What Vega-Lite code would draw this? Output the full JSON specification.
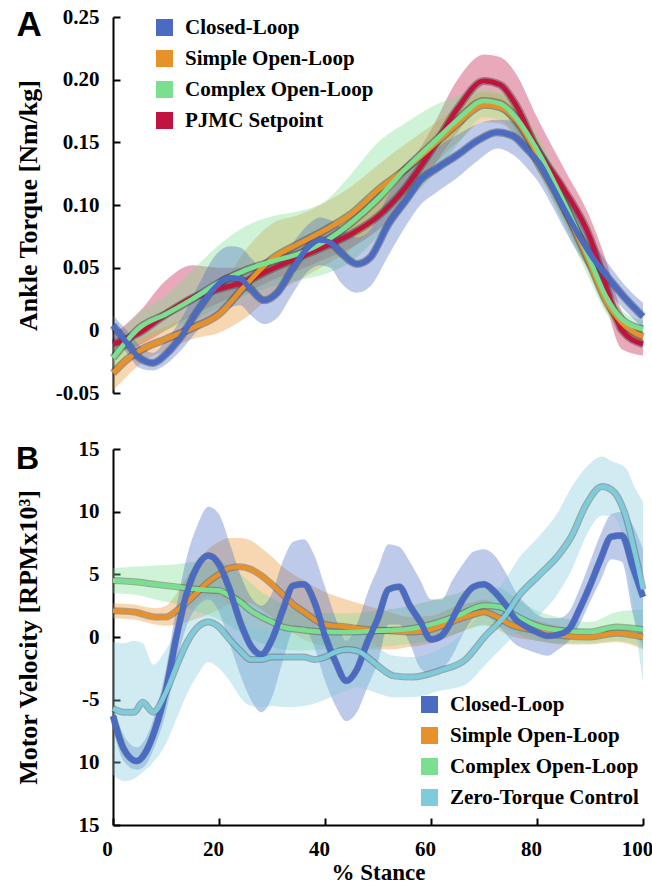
{
  "$schema": "https://vega.github.io/schema/vega-lite/v6.json",
  "background": "white",
  "padding": {"left": 15, "top": 6, "right": 0, "bottom": 0},
  "spacing": 35,
  "config": {
    "view": {"stroke": null},
    "font": "Liberation Serif",
    "axis": {
      "grid": false, "domainColor": "black", "domainWidth": 2, "tickColor": "black", "tickWidth": 2,
      "labelFont": "Liberation Serif", "labelFontWeight": "bold", "labelColor": "black",
      "titleFont": "Liberation Serif", "titleFontWeight": "bold", "titleColor": "black",
      "labelFlush": false, "labelOverlap": false
    },
    "legend": {
      "orient": "none", "title": null, "symbolType": "square", "symbolSize": 290, "symbolOpacity": 1,
      "symbolStrokeWidth": 0, "labelFont": "Liberation Serif", "labelFontWeight": "bold", "labelFontSize": 21,
      "labelColor": "black", "rowPadding": 9, "labelOffset": 10, "padding": 0, "labelLimit": 400
    }
  },
  "resolve": {
    "scale": {"color": "independent", "y": "independent", "x": "independent"},
    "legend": {"color": "independent"},
    "axis": {"x": "independent", "y": "independent"}
  },
  "datasets": {
    "torque": [
      {"series": "PJMC Setpoint", "x": 0, "y": -0.011, "lo": -0.018, "hi": -0.004},
      {"series": "PJMC Setpoint", "x": 5, "y": -0.002, "lo": -0.012, "hi": 0.015},
      {"series": "PJMC Setpoint", "x": 10, "y": 0.013, "lo": 0.0, "hi": 0.04},
      {"series": "PJMC Setpoint", "x": 15, "y": 0.026, "lo": 0.012, "hi": 0.052},
      {"series": "PJMC Setpoint", "x": 20, "y": 0.033, "lo": 0.022, "hi": 0.05},
      {"series": "PJMC Setpoint", "x": 25, "y": 0.039, "lo": 0.03, "hi": 0.05},
      {"series": "PJMC Setpoint", "x": 30, "y": 0.049, "lo": 0.04, "hi": 0.058},
      {"series": "PJMC Setpoint", "x": 35, "y": 0.058, "lo": 0.048, "hi": 0.067},
      {"series": "PJMC Setpoint", "x": 40, "y": 0.067, "lo": 0.057, "hi": 0.077},
      {"series": "PJMC Setpoint", "x": 45, "y": 0.077, "lo": 0.066, "hi": 0.088},
      {"series": "PJMC Setpoint", "x": 50, "y": 0.091, "lo": 0.08, "hi": 0.102},
      {"series": "PJMC Setpoint", "x": 55, "y": 0.113, "lo": 0.1, "hi": 0.126},
      {"series": "PJMC Setpoint", "x": 60, "y": 0.143, "lo": 0.128, "hi": 0.16},
      {"series": "PJMC Setpoint", "x": 65, "y": 0.177, "lo": 0.158, "hi": 0.2},
      {"series": "PJMC Setpoint", "x": 70, "y": 0.199, "lo": 0.18, "hi": 0.22},
      {"series": "PJMC Setpoint", "x": 73, "y": 0.196, "lo": 0.176, "hi": 0.218},
      {"series": "PJMC Setpoint", "x": 76, "y": 0.18, "lo": 0.16, "hi": 0.205},
      {"series": "PJMC Setpoint", "x": 80, "y": 0.145, "lo": 0.128, "hi": 0.17},
      {"series": "PJMC Setpoint", "x": 85, "y": 0.113, "lo": 0.098, "hi": 0.13},
      {"series": "PJMC Setpoint", "x": 90, "y": 0.074, "lo": 0.058, "hi": 0.09},
      {"series": "PJMC Setpoint", "x": 93, "y": 0.036, "lo": 0.02, "hi": 0.056},
      {"series": "PJMC Setpoint", "x": 96, "y": 0.0, "lo": -0.015, "hi": 0.015},
      {"series": "PJMC Setpoint", "x": 100, "y": -0.011, "lo": -0.02, "hi": -0.003},

      {"series": "Simple Open-Loop", "x": 0, "y": -0.034, "lo": -0.048, "hi": -0.022},
      {"series": "Simple Open-Loop", "x": 3, "y": -0.022, "lo": -0.035, "hi": -0.012},
      {"series": "Simple Open-Loop", "x": 6, "y": -0.014, "lo": -0.024, "hi": -0.004},
      {"series": "Simple Open-Loop", "x": 10, "y": -0.007, "lo": -0.016, "hi": 0.003},
      {"series": "Simple Open-Loop", "x": 15, "y": 0.002, "lo": -0.007, "hi": 0.014},
      {"series": "Simple Open-Loop", "x": 20, "y": 0.013, "lo": -0.002, "hi": 0.032},
      {"series": "Simple Open-Loop", "x": 25, "y": 0.036, "lo": 0.01, "hi": 0.064},
      {"series": "Simple Open-Loop", "x": 30, "y": 0.057, "lo": 0.028, "hi": 0.085},
      {"series": "Simple Open-Loop", "x": 35, "y": 0.069, "lo": 0.04, "hi": 0.092},
      {"series": "Simple Open-Loop", "x": 40, "y": 0.08, "lo": 0.052, "hi": 0.102},
      {"series": "Simple Open-Loop", "x": 45, "y": 0.093, "lo": 0.065, "hi": 0.115},
      {"series": "Simple Open-Loop", "x": 50, "y": 0.112, "lo": 0.088, "hi": 0.132},
      {"series": "Simple Open-Loop", "x": 55, "y": 0.128, "lo": 0.108, "hi": 0.148},
      {"series": "Simple Open-Loop", "x": 60, "y": 0.146, "lo": 0.13, "hi": 0.163},
      {"series": "Simple Open-Loop", "x": 65, "y": 0.165, "lo": 0.15, "hi": 0.178},
      {"series": "Simple Open-Loop", "x": 70, "y": 0.18, "lo": 0.166, "hi": 0.19},
      {"series": "Simple Open-Loop", "x": 73, "y": 0.178, "lo": 0.165, "hi": 0.188},
      {"series": "Simple Open-Loop", "x": 76, "y": 0.168, "lo": 0.155, "hi": 0.18},
      {"series": "Simple Open-Loop", "x": 80, "y": 0.141, "lo": 0.128, "hi": 0.153},
      {"series": "Simple Open-Loop", "x": 85, "y": 0.099, "lo": 0.088, "hi": 0.11},
      {"series": "Simple Open-Loop", "x": 90, "y": 0.053, "lo": 0.044, "hi": 0.062},
      {"series": "Simple Open-Loop", "x": 93, "y": 0.024, "lo": 0.016, "hi": 0.032},
      {"series": "Simple Open-Loop", "x": 96, "y": 0.006, "lo": 0.0, "hi": 0.012},
      {"series": "Simple Open-Loop", "x": 100, "y": -0.005, "lo": -0.01, "hi": 0.0},

      {"series": "Complex Open-Loop", "x": 0, "y": -0.022, "lo": -0.032, "hi": -0.01},
      {"series": "Complex Open-Loop", "x": 5, "y": 0.002, "lo": -0.01, "hi": 0.014},
      {"series": "Complex Open-Loop", "x": 10, "y": 0.013, "lo": 0.0, "hi": 0.028},
      {"series": "Complex Open-Loop", "x": 15, "y": 0.025, "lo": 0.008, "hi": 0.048},
      {"series": "Complex Open-Loop", "x": 20, "y": 0.038, "lo": 0.018, "hi": 0.068},
      {"series": "Complex Open-Loop", "x": 25, "y": 0.048, "lo": 0.028, "hi": 0.083},
      {"series": "Complex Open-Loop", "x": 30, "y": 0.055, "lo": 0.035, "hi": 0.091},
      {"series": "Complex Open-Loop", "x": 35, "y": 0.061, "lo": 0.04, "hi": 0.095},
      {"series": "Complex Open-Loop", "x": 40, "y": 0.071, "lo": 0.045, "hi": 0.103},
      {"series": "Complex Open-Loop", "x": 45, "y": 0.086, "lo": 0.055, "hi": 0.125},
      {"series": "Complex Open-Loop", "x": 50, "y": 0.105, "lo": 0.075, "hi": 0.15},
      {"series": "Complex Open-Loop", "x": 55, "y": 0.128, "lo": 0.1, "hi": 0.165},
      {"series": "Complex Open-Loop", "x": 60, "y": 0.148, "lo": 0.122, "hi": 0.178},
      {"series": "Complex Open-Loop", "x": 65, "y": 0.168, "lo": 0.148, "hi": 0.187},
      {"series": "Complex Open-Loop", "x": 70, "y": 0.183, "lo": 0.17, "hi": 0.192},
      {"series": "Complex Open-Loop", "x": 73, "y": 0.181, "lo": 0.168, "hi": 0.19},
      {"series": "Complex Open-Loop", "x": 76, "y": 0.17, "lo": 0.156, "hi": 0.182},
      {"series": "Complex Open-Loop", "x": 80, "y": 0.144, "lo": 0.128, "hi": 0.156},
      {"series": "Complex Open-Loop", "x": 85, "y": 0.103, "lo": 0.085, "hi": 0.115},
      {"series": "Complex Open-Loop", "x": 90, "y": 0.056, "lo": 0.04, "hi": 0.066},
      {"series": "Complex Open-Loop", "x": 93, "y": 0.027, "lo": 0.014, "hi": 0.036},
      {"series": "Complex Open-Loop", "x": 96, "y": 0.009, "lo": 0.002, "hi": 0.016},
      {"series": "Complex Open-Loop", "x": 100, "y": 0.001, "lo": -0.004, "hi": 0.008},

      {"series": "Closed-Loop", "x": 0, "y": 0.004, "lo": -0.006, "hi": 0.012},
      {"series": "Closed-Loop", "x": 3, "y": -0.012, "lo": -0.02, "hi": -0.002},
      {"series": "Closed-Loop", "x": 5, "y": -0.022, "lo": -0.03, "hi": -0.012},
      {"series": "Closed-Loop", "x": 7.5, "y": -0.026, "lo": -0.032, "hi": -0.018},
      {"series": "Closed-Loop", "x": 10, "y": -0.019, "lo": -0.027, "hi": -0.008},
      {"series": "Closed-Loop", "x": 13, "y": -0.004, "lo": -0.015, "hi": 0.01},
      {"series": "Closed-Loop", "x": 16, "y": 0.016, "lo": 0.0, "hi": 0.035},
      {"series": "Closed-Loop", "x": 19, "y": 0.033, "lo": 0.012, "hi": 0.058},
      {"series": "Closed-Loop", "x": 22, "y": 0.042, "lo": 0.018, "hi": 0.067},
      {"series": "Closed-Loop", "x": 24, "y": 0.041, "lo": 0.02, "hi": 0.066},
      {"series": "Closed-Loop", "x": 26, "y": 0.033, "lo": 0.012, "hi": 0.058},
      {"series": "Closed-Loop", "x": 28.5, "y": 0.024, "lo": 0.005, "hi": 0.048},
      {"series": "Closed-Loop", "x": 31, "y": 0.03, "lo": 0.01, "hi": 0.052},
      {"series": "Closed-Loop", "x": 34, "y": 0.05, "lo": 0.03, "hi": 0.07},
      {"series": "Closed-Loop", "x": 37, "y": 0.067, "lo": 0.048, "hi": 0.085},
      {"series": "Closed-Loop", "x": 39, "y": 0.072, "lo": 0.052, "hi": 0.09},
      {"series": "Closed-Loop", "x": 41, "y": 0.07, "lo": 0.05, "hi": 0.088},
      {"series": "Closed-Loop", "x": 43, "y": 0.062, "lo": 0.038, "hi": 0.082},
      {"series": "Closed-Loop", "x": 46, "y": 0.053, "lo": 0.03, "hi": 0.074},
      {"series": "Closed-Loop", "x": 48.5, "y": 0.058, "lo": 0.035, "hi": 0.08},
      {"series": "Closed-Loop", "x": 52, "y": 0.085, "lo": 0.06, "hi": 0.108},
      {"series": "Closed-Loop", "x": 55.5, "y": 0.105, "lo": 0.085, "hi": 0.126},
      {"series": "Closed-Loop", "x": 58, "y": 0.12, "lo": 0.1, "hi": 0.138},
      {"series": "Closed-Loop", "x": 61, "y": 0.129, "lo": 0.11, "hi": 0.146},
      {"series": "Closed-Loop", "x": 65, "y": 0.14, "lo": 0.122, "hi": 0.156},
      {"series": "Closed-Loop", "x": 69, "y": 0.152, "lo": 0.136, "hi": 0.165},
      {"series": "Closed-Loop", "x": 72.5, "y": 0.158, "lo": 0.145, "hi": 0.168},
      {"series": "Closed-Loop", "x": 75.5, "y": 0.155, "lo": 0.14, "hi": 0.167},
      {"series": "Closed-Loop", "x": 78, "y": 0.145, "lo": 0.13, "hi": 0.158},
      {"series": "Closed-Loop", "x": 80.5, "y": 0.133, "lo": 0.117, "hi": 0.147},
      {"series": "Closed-Loop", "x": 83, "y": 0.114, "lo": 0.098, "hi": 0.13},
      {"series": "Closed-Loop", "x": 85.5, "y": 0.094, "lo": 0.078, "hi": 0.11},
      {"series": "Closed-Loop", "x": 88, "y": 0.075, "lo": 0.06, "hi": 0.09},
      {"series": "Closed-Loop", "x": 91, "y": 0.055, "lo": 0.042, "hi": 0.068},
      {"series": "Closed-Loop", "x": 94, "y": 0.039, "lo": 0.028, "hi": 0.05},
      {"series": "Closed-Loop", "x": 97, "y": 0.024, "lo": 0.014, "hi": 0.034},
      {"series": "Closed-Loop", "x": 100, "y": 0.011, "lo": 0.002, "hi": 0.022}
    ],
    "velocity": [
      {"series": "Simple Open-Loop", "x": 0, "y": 2.1, "lo": 1.5, "hi": 2.7},
      {"series": "Simple Open-Loop", "x": 4, "y": 2.0, "lo": 1.4, "hi": 2.6},
      {"series": "Simple Open-Loop", "x": 8, "y": 1.6, "lo": 1.0, "hi": 2.3},
      {"series": "Simple Open-Loop", "x": 10, "y": 1.6, "lo": 0.9, "hi": 2.5},
      {"series": "Simple Open-Loop", "x": 12, "y": 2.1, "lo": 1.0, "hi": 3.5},
      {"series": "Simple Open-Loop", "x": 14, "y": 2.8, "lo": 1.2, "hi": 4.8},
      {"series": "Simple Open-Loop", "x": 16, "y": 3.6, "lo": 1.5, "hi": 6.0},
      {"series": "Simple Open-Loop", "x": 18, "y": 4.4, "lo": 1.8, "hi": 7.0},
      {"series": "Simple Open-Loop", "x": 20, "y": 5.0, "lo": 2.2, "hi": 7.6},
      {"series": "Simple Open-Loop", "x": 22, "y": 5.5, "lo": 2.6, "hi": 7.9},
      {"series": "Simple Open-Loop", "x": 24, "y": 5.6, "lo": 2.8, "hi": 7.9},
      {"series": "Simple Open-Loop", "x": 26, "y": 5.4, "lo": 2.7, "hi": 7.7},
      {"series": "Simple Open-Loop", "x": 28, "y": 4.9, "lo": 2.2, "hi": 7.1},
      {"series": "Simple Open-Loop", "x": 30, "y": 4.2, "lo": 1.6, "hi": 6.4},
      {"series": "Simple Open-Loop", "x": 32, "y": 3.4, "lo": 0.9, "hi": 5.6},
      {"series": "Simple Open-Loop", "x": 34, "y": 2.6, "lo": 0.3, "hi": 5.0},
      {"series": "Simple Open-Loop", "x": 36, "y": 2.0, "lo": -0.2, "hi": 4.5},
      {"series": "Simple Open-Loop", "x": 38, "y": 1.4, "lo": -0.5, "hi": 4.0},
      {"series": "Simple Open-Loop", "x": 40, "y": 1.0, "lo": -0.7, "hi": 3.6},
      {"series": "Simple Open-Loop", "x": 44, "y": 0.8, "lo": -0.9, "hi": 3.0},
      {"series": "Simple Open-Loop", "x": 48, "y": 0.6, "lo": -1.0, "hi": 2.5},
      {"series": "Simple Open-Loop", "x": 52, "y": 0.5, "lo": -1.0, "hi": 2.0},
      {"series": "Simple Open-Loop", "x": 56, "y": 0.4, "lo": -0.8, "hi": 1.6},
      {"series": "Simple Open-Loop", "x": 60, "y": 0.6, "lo": -0.5, "hi": 1.7},
      {"series": "Simple Open-Loop", "x": 65, "y": 1.4, "lo": 0.3, "hi": 2.5},
      {"series": "Simple Open-Loop", "x": 68, "y": 1.8, "lo": 0.8, "hi": 2.8},
      {"series": "Simple Open-Loop", "x": 70, "y": 2.0, "lo": 1.0, "hi": 3.0},
      {"series": "Simple Open-Loop", "x": 72, "y": 1.7, "lo": 0.7, "hi": 2.7},
      {"series": "Simple Open-Loop", "x": 75, "y": 1.0, "lo": 0.1, "hi": 2.0},
      {"series": "Simple Open-Loop", "x": 80, "y": 0.5, "lo": -0.3, "hi": 1.3},
      {"series": "Simple Open-Loop", "x": 85, "y": 0.1, "lo": -0.6, "hi": 0.8},
      {"series": "Simple Open-Loop", "x": 90, "y": 0.0, "lo": -0.6, "hi": 0.6},
      {"series": "Simple Open-Loop", "x": 95, "y": 0.3, "lo": -0.4, "hi": 1.0},
      {"series": "Simple Open-Loop", "x": 100, "y": 0.0, "lo": -1.0, "hi": 0.6},

      {"series": "Complex Open-Loop", "x": 0, "y": 4.5, "lo": 3.5, "hi": 5.5},
      {"series": "Complex Open-Loop", "x": 4, "y": 4.4, "lo": 3.4, "hi": 5.6},
      {"series": "Complex Open-Loop", "x": 8, "y": 4.2, "lo": 3.0, "hi": 5.7},
      {"series": "Complex Open-Loop", "x": 12, "y": 4.0, "lo": 2.6, "hi": 5.8},
      {"series": "Complex Open-Loop", "x": 16, "y": 3.8, "lo": 2.0, "hi": 6.0},
      {"series": "Complex Open-Loop", "x": 20, "y": 3.7, "lo": 1.4, "hi": 6.0},
      {"series": "Complex Open-Loop", "x": 22, "y": 3.3, "lo": 0.9, "hi": 5.6},
      {"series": "Complex Open-Loop", "x": 24, "y": 2.8, "lo": 0.4, "hi": 5.0},
      {"series": "Complex Open-Loop", "x": 26, "y": 2.1, "lo": -0.1, "hi": 4.3},
      {"series": "Complex Open-Loop", "x": 28, "y": 1.6, "lo": -0.5, "hi": 3.6},
      {"series": "Complex Open-Loop", "x": 30, "y": 1.2, "lo": -0.8, "hi": 3.1},
      {"series": "Complex Open-Loop", "x": 32, "y": 0.8, "lo": -1.0, "hi": 2.6},
      {"series": "Complex Open-Loop", "x": 35, "y": 0.6, "lo": -1.1, "hi": 2.2},
      {"series": "Complex Open-Loop", "x": 40, "y": 0.4, "lo": -1.0, "hi": 1.9},
      {"series": "Complex Open-Loop", "x": 45, "y": 0.4, "lo": -0.9, "hi": 1.9},
      {"series": "Complex Open-Loop", "x": 50, "y": 0.5, "lo": -0.8, "hi": 2.1},
      {"series": "Complex Open-Loop", "x": 55, "y": 0.6, "lo": -0.6, "hi": 2.4},
      {"series": "Complex Open-Loop", "x": 60, "y": 1.0, "lo": -0.3, "hi": 2.9},
      {"series": "Complex Open-Loop", "x": 65, "y": 1.7, "lo": 0.3, "hi": 3.5},
      {"series": "Complex Open-Loop", "x": 70, "y": 2.5, "lo": 0.9, "hi": 4.1},
      {"series": "Complex Open-Loop", "x": 73, "y": 2.4, "lo": 0.8, "hi": 3.9},
      {"series": "Complex Open-Loop", "x": 76, "y": 1.7, "lo": 0.3, "hi": 3.1},
      {"series": "Complex Open-Loop", "x": 80, "y": 0.9, "lo": -0.3, "hi": 2.1},
      {"series": "Complex Open-Loop", "x": 85, "y": 0.5, "lo": -0.5, "hi": 1.5},
      {"series": "Complex Open-Loop", "x": 90, "y": 0.4, "lo": -0.5, "hi": 1.2},
      {"series": "Complex Open-Loop", "x": 95, "y": 0.8, "lo": -0.3, "hi": 2.0},
      {"series": "Complex Open-Loop", "x": 100, "y": 0.6, "lo": -0.8, "hi": 2.2},

      {"series": "Closed-Loop", "x": 0, "y": -6.3, "lo": -7.3, "hi": -5.3},
      {"series": "Closed-Loop", "x": 2, "y": -8.9, "lo": -9.9, "hi": -7.8},
      {"series": "Closed-Loop", "x": 4.5, "y": -9.9, "lo": -10.6, "hi": -8.8},
      {"series": "Closed-Loop", "x": 6, "y": -9.3, "lo": -10.3, "hi": -8.2},
      {"series": "Closed-Loop", "x": 8, "y": -7.3, "lo": -8.6, "hi": -6.0},
      {"series": "Closed-Loop", "x": 10, "y": -4.2, "lo": -6.0, "hi": -2.5},
      {"series": "Closed-Loop", "x": 12, "y": 0.1, "lo": -2.0, "hi": 2.5},
      {"series": "Closed-Loop", "x": 14, "y": 3.6, "lo": 1.0, "hi": 6.5},
      {"series": "Closed-Loop", "x": 16, "y": 5.7, "lo": 2.5, "hi": 9.0},
      {"series": "Closed-Loop", "x": 18, "y": 6.5, "lo": 3.0, "hi": 10.4},
      {"series": "Closed-Loop", "x": 20, "y": 5.8, "lo": 2.0, "hi": 9.8},
      {"series": "Closed-Loop", "x": 22, "y": 3.8, "lo": -0.5, "hi": 7.5},
      {"series": "Closed-Loop", "x": 24, "y": 1.2, "lo": -3.0, "hi": 5.0},
      {"series": "Closed-Loop", "x": 26, "y": -0.7, "lo": -5.0, "hi": 3.2},
      {"series": "Closed-Loop", "x": 28, "y": -1.4, "lo": -6.0, "hi": 2.5},
      {"series": "Closed-Loop", "x": 30, "y": -0.2, "lo": -4.8, "hi": 3.5},
      {"series": "Closed-Loop", "x": 32, "y": 2.1, "lo": -2.0, "hi": 6.0},
      {"series": "Closed-Loop", "x": 34, "y": 4.1, "lo": 0.5, "hi": 7.6},
      {"series": "Closed-Loop", "x": 36, "y": 4.2, "lo": 0.8, "hi": 7.8},
      {"series": "Closed-Loop", "x": 38, "y": 2.8, "lo": -0.8, "hi": 6.5},
      {"series": "Closed-Loop", "x": 40, "y": 0.1, "lo": -3.5, "hi": 4.0},
      {"series": "Closed-Loop", "x": 42, "y": -2.0, "lo": -5.5, "hi": 1.5},
      {"series": "Closed-Loop", "x": 44, "y": -3.5, "lo": -6.7, "hi": -0.3},
      {"series": "Closed-Loop", "x": 46, "y": -2.6, "lo": -6.0, "hi": 1.0},
      {"series": "Closed-Loop", "x": 48, "y": -0.4, "lo": -4.0, "hi": 3.5},
      {"series": "Closed-Loop", "x": 50, "y": 1.5, "lo": -2.0, "hi": 5.5},
      {"series": "Closed-Loop", "x": 52, "y": 3.8, "lo": 1.0, "hi": 7.4},
      {"series": "Closed-Loop", "x": 54, "y": 4.0, "lo": 1.0, "hi": 7.2},
      {"series": "Closed-Loop", "x": 56, "y": 2.5, "lo": -0.5, "hi": 6.0},
      {"series": "Closed-Loop", "x": 58, "y": 1.2, "lo": -2.5, "hi": 4.5},
      {"series": "Closed-Loop", "x": 60, "y": -0.2, "lo": -3.0, "hi": 3.0},
      {"series": "Closed-Loop", "x": 62, "y": 0.1, "lo": -2.6, "hi": 3.0},
      {"series": "Closed-Loop", "x": 64, "y": 1.4, "lo": -1.5, "hi": 4.5},
      {"series": "Closed-Loop", "x": 66, "y": 3.0, "lo": 0.2, "hi": 5.8},
      {"series": "Closed-Loop", "x": 68, "y": 4.0, "lo": 1.5, "hi": 6.8},
      {"series": "Closed-Loop", "x": 70, "y": 4.2, "lo": 1.8, "hi": 7.0},
      {"series": "Closed-Loop", "x": 72, "y": 3.6, "lo": 1.2, "hi": 6.5},
      {"series": "Closed-Loop", "x": 74, "y": 2.6, "lo": 0.3, "hi": 5.2},
      {"series": "Closed-Loop", "x": 76, "y": 1.4, "lo": -0.6, "hi": 3.6},
      {"series": "Closed-Loop", "x": 78, "y": 0.8, "lo": -1.0, "hi": 2.6},
      {"series": "Closed-Loop", "x": 80, "y": 0.4, "lo": -1.3, "hi": 1.8},
      {"series": "Closed-Loop", "x": 82, "y": 0.1, "lo": -1.5, "hi": 1.5},
      {"series": "Closed-Loop", "x": 84, "y": 0.2, "lo": -1.0, "hi": 1.5},
      {"series": "Closed-Loop", "x": 86, "y": 0.6, "lo": -0.3, "hi": 2.0},
      {"series": "Closed-Loop", "x": 88, "y": 2.2, "lo": 1.0, "hi": 3.8},
      {"series": "Closed-Loop", "x": 90, "y": 4.1, "lo": 2.8, "hi": 6.0},
      {"series": "Closed-Loop", "x": 92, "y": 6.2, "lo": 4.5, "hi": 8.2},
      {"series": "Closed-Loop", "x": 94, "y": 8.0, "lo": 6.2, "hi": 9.8},
      {"series": "Closed-Loop", "x": 96, "y": 8.1, "lo": 6.0, "hi": 10.0},
      {"series": "Closed-Loop", "x": 98, "y": 5.7, "lo": 2.0, "hi": 9.0},
      {"series": "Closed-Loop", "x": 100, "y": 3.2, "lo": -1.0, "hi": 7.0},

      {"series": "Zero-Torque Control", "x": 0, "y": -5.7, "lo": -11.0, "hi": -0.4},
      {"series": "Zero-Torque Control", "x": 2, "y": -6.0, "lo": -11.5, "hi": -0.5},
      {"series": "Zero-Torque Control", "x": 4, "y": -6.0, "lo": -11.3, "hi": -0.3},
      {"series": "Zero-Torque Control", "x": 5.6, "y": -5.2, "lo": -10.8, "hi": -0.5},
      {"series": "Zero-Torque Control", "x": 7.6, "y": -6.0, "lo": -10.0, "hi": -2.2},
      {"series": "Zero-Torque Control", "x": 10, "y": -4.4, "lo": -8.5, "hi": -1.0},
      {"series": "Zero-Torque Control", "x": 12, "y": -2.3, "lo": -6.5, "hi": 0.5},
      {"series": "Zero-Torque Control", "x": 14, "y": -0.4, "lo": -4.5, "hi": 1.8},
      {"series": "Zero-Torque Control", "x": 16, "y": 0.8, "lo": -3.0, "hi": 2.8},
      {"series": "Zero-Torque Control", "x": 18, "y": 1.2, "lo": -2.0, "hi": 3.3},
      {"series": "Zero-Torque Control", "x": 20, "y": 0.8, "lo": -2.5, "hi": 3.2},
      {"series": "Zero-Torque Control", "x": 22, "y": -0.2, "lo": -3.5, "hi": 2.5},
      {"series": "Zero-Torque Control", "x": 24, "y": -1.1, "lo": -4.8, "hi": 1.5},
      {"series": "Zero-Torque Control", "x": 26, "y": -1.8, "lo": -5.5, "hi": 0.8},
      {"series": "Zero-Torque Control", "x": 28, "y": -1.8, "lo": -5.6, "hi": 0.5},
      {"series": "Zero-Torque Control", "x": 30, "y": -1.6, "lo": -5.5, "hi": 0.5},
      {"series": "Zero-Torque Control", "x": 33, "y": -1.6, "lo": -5.6, "hi": 0.6},
      {"series": "Zero-Torque Control", "x": 36, "y": -1.6, "lo": -5.5, "hi": 0.6},
      {"series": "Zero-Torque Control", "x": 38, "y": -1.8, "lo": -5.3, "hi": 0.2},
      {"series": "Zero-Torque Control", "x": 40, "y": -1.6, "lo": -5.0, "hi": 0.3},
      {"series": "Zero-Torque Control", "x": 42, "y": -1.2, "lo": -4.6, "hi": 0.8},
      {"series": "Zero-Torque Control", "x": 44, "y": -1.0, "lo": -4.3, "hi": 0.9},
      {"series": "Zero-Torque Control", "x": 46, "y": -1.1, "lo": -4.0, "hi": 0.5},
      {"series": "Zero-Torque Control", "x": 48, "y": -1.6, "lo": -4.2, "hi": 0.0},
      {"series": "Zero-Torque Control", "x": 50, "y": -2.3, "lo": -4.5, "hi": -0.8},
      {"series": "Zero-Torque Control", "x": 53, "y": -3.1, "lo": -4.8, "hi": -1.5},
      {"series": "Zero-Torque Control", "x": 56.5, "y": -3.2, "lo": -4.8, "hi": -1.6},
      {"series": "Zero-Torque Control", "x": 61.5, "y": -2.7, "lo": -4.3, "hi": -1.0},
      {"series": "Zero-Torque Control", "x": 66.5, "y": -1.8, "lo": -3.8, "hi": 0.5},
      {"series": "Zero-Torque Control", "x": 70.3, "y": 0.1, "lo": -2.2, "hi": 2.5},
      {"series": "Zero-Torque Control", "x": 74, "y": 1.7, "lo": -0.6, "hi": 4.6},
      {"series": "Zero-Torque Control", "x": 76.6, "y": 3.3, "lo": 0.5, "hi": 6.3},
      {"series": "Zero-Torque Control", "x": 80.3, "y": 4.9, "lo": 1.7, "hi": 8.0},
      {"series": "Zero-Torque Control", "x": 84, "y": 6.5, "lo": 3.5, "hi": 10.0},
      {"series": "Zero-Torque Control", "x": 86.6, "y": 8.1, "lo": 5.4, "hi": 12.0},
      {"series": "Zero-Torque Control", "x": 89.2, "y": 10.5, "lo": 8.0, "hi": 13.5},
      {"series": "Zero-Torque Control", "x": 92.3, "y": 12.0, "lo": 9.7, "hi": 14.4},
      {"series": "Zero-Torque Control", "x": 94.2, "y": 11.7, "lo": 9.7, "hi": 14.0},
      {"series": "Zero-Torque Control", "x": 96.7, "y": 9.7, "lo": 7.0, "hi": 13.5},
      {"series": "Zero-Torque Control", "x": 98.6, "y": 6.5, "lo": 0.6, "hi": 11.8},
      {"series": "Zero-Torque Control", "x": 100, "y": 3.8, "lo": -3.6, "hi": 10.8}
    ]
  },
  "vconcat": [
    {
      "width": 530,
      "height": 376,
      "layer": [
        {
          "data": {"name": "torque"},
          "mark": {"type": "area", "opacity": 0.36, "interpolate": "monotone"},
          "encoding": {
            "x": {"field": "x", "type": "quantitative", "scale": {"domain": [0, 100], "nice": false}, "axis": null},
            "y": {
              "field": "lo", "type": "quantitative",
              "scale": {"domain": [-0.05, 0.25], "nice": false, "zero": false},
              "axis": {
                "values": [-0.05, 0, 0.05, 0.1, 0.15, 0.2, 0.25],
                "tickSize": -7, "labelPadding": 21, "labelFontSize": 21,
                "labelExpr": "datum.value == 0 ? '0' : replace(format(datum.value, '.2f'), '\u2212', '-')",
                "title": "Ankle Torque [Nm/kg]", "titleFontSize": 26,
                "titleX": -72, "titleY": 188, "titleAngle": 270, "titleBaseline": "bottom", "titleAlign": "center"
              }
            },
            "y2": {"field": "hi"},
            "color": {
              "field": "series", "type": "nominal",
              "scale": {
                "domain": ["Closed-Loop", "Simple Open-Loop", "Complex Open-Loop", "PJMC Setpoint"],
                "range": ["#4B6BC2", "#E8902A", "#7ADF8E", "#C0143F"]
              },
              "legend": {"legendX": 41, "legendY": 0}
            }
          }
        },
        {
          "data": {"name": "torque"},
          "mark": {"type": "line", "interpolate": "monotone", "color": "#333333", "opacity": 0.4, "strokeWidth": 8},
          "encoding": {
            "x": {"field": "x", "type": "quantitative"},
            "y": {"field": "y", "type": "quantitative"},
            "detail": {"field": "series", "type": "nominal"}
          }
        },
        {
          "data": {"name": "torque"},
          "transform": [{"filter": "datum.series != 'Closed-Loop'"}],
          "mark": {"type": "line", "interpolate": "monotone", "strokeWidth": 4.8},
          "encoding": {
            "x": {"field": "x", "type": "quantitative"},
            "y": {"field": "y", "type": "quantitative"},
            "color": {"field": "series", "type": "nominal", "legend": null}
          }
        },
        {
          "data": {"name": "torque"},
          "transform": [{"filter": "datum.series == 'Closed-Loop'"}],
          "mark": {"type": "line", "interpolate": "monotone", "strokeWidth": 5.5},
          "encoding": {
            "x": {"field": "x", "type": "quantitative"},
            "y": {"field": "y", "type": "quantitative"},
            "color": {"field": "series", "type": "nominal", "legend": null}
          }
        },
        {
          "mark": {"type": "rule", "strokeDash": [9, 7], "strokeWidth": 2, "color": "black"},
          "encoding": {"y": {"datum": 0}}
        },
        {
          "data": {"values": [{"t": "A", "x": -18.2, "y": 0.2346}]},
          "mark": {"type": "text", "font": "Liberation Sans", "fontWeight": "bold", "fontSize": 35, "align": "left", "baseline": "alphabetic", "color": "black"},
          "encoding": {
            "x": {"field": "x", "type": "quantitative"},
            "y": {"field": "y", "type": "quantitative"},
            "text": {"field": "t"}
          }
        }
      ]
    },
    {
      "width": 530,
      "height": 376,
      "layer": [
        {
          "data": {"name": "velocity"},
          "mark": {"type": "area", "opacity": 0.36, "interpolate": "monotone"},
          "encoding": {
            "x": {
              "field": "x", "type": "quantitative", "scale": {"domain": [0, 100], "nice": false},
              "axis": {
                "values": [0, 20, 40, 60, 80, 100], "format": "d", "tickSize": -7, "labelPadding": 20,
                "labelFontSize": 21, "labelOffset": -6, "title": "% Stance", "titleFontSize": 23, "titlePadding": 2
              }
            },
            "y": {
              "field": "lo", "type": "quantitative",
              "scale": {"domain": [-15, 15], "nice": false, "zero": false},
              "axis": {
                "values": [-15, -10, -5, 0, 5, 10, 15],
                "tickSize": -7, "labelPadding": 21, "labelFontSize": 21,
                "labelExpr": "datum.value < -5 ? format(-datum.value, 'd') : (datum.value == -5 ? '-5' : format(datum.value, 'd'))",
                "title": "Motor Velocity [RPMx10³]", "titleFontSize": 26,
                "titleX": -72, "titleY": 188, "titleAngle": 270, "titleBaseline": "bottom", "titleAlign": "center"
              }
            },
            "y2": {"field": "hi"},
            "color": {
              "field": "series", "type": "nominal",
              "scale": {
                "domain": ["Closed-Loop", "Simple Open-Loop", "Complex Open-Loop", "Zero-Torque Control"],
                "range": ["#4B6BC2", "#E8902A", "#7ADF8E", "#7ECBDC"]
              },
              "legend": {"legendX": 306, "legendY": 245}
            }
          }
        },
        {
          "data": {"name": "velocity"},
          "mark": {"type": "line", "interpolate": "monotone", "color": "#555555", "opacity": 0.45, "strokeWidth": 7},
          "encoding": {
            "x": {"field": "x", "type": "quantitative"},
            "y": {"field": "y", "type": "quantitative"},
            "detail": {"field": "series", "type": "nominal"}
          }
        },
        {
          "data": {"name": "velocity"},
          "transform": [{"filter": "datum.series == 'Simple Open-Loop' || datum.series == 'Complex Open-Loop'"}],
          "mark": {"type": "line", "interpolate": "monotone", "strokeWidth": 4.6},
          "encoding": {
            "x": {"field": "x", "type": "quantitative"},
            "y": {"field": "y", "type": "quantitative"},
            "color": {"field": "series", "type": "nominal", "legend": null}
          }
        },
        {
          "data": {"name": "velocity"},
          "transform": [{"filter": "datum.series == 'Closed-Loop'"}],
          "mark": {"type": "line", "interpolate": "monotone", "strokeWidth": 6},
          "encoding": {
            "x": {"field": "x", "type": "quantitative"},
            "y": {"field": "y", "type": "quantitative"},
            "color": {"field": "series", "type": "nominal", "legend": null}
          }
        },
        {
          "data": {"name": "velocity"},
          "transform": [{"filter": "datum.series == 'Zero-Torque Control'"}],
          "mark": {"type": "line", "interpolate": "monotone", "strokeWidth": 4.6},
          "encoding": {
            "x": {"field": "x", "type": "quantitative"},
            "y": {"field": "y", "type": "quantitative"},
            "color": {"field": "series", "type": "nominal", "legend": null}
          }
        },
        {
          "mark": {"type": "rule", "strokeDash": [9, 7], "strokeWidth": 2, "color": "black"},
          "encoding": {"y": {"datum": 0}}
        },
        {
          "data": {"values": [{"t": "B", "x": -18.3, "y": 13.4}]},
          "mark": {"type": "text", "font": "Liberation Sans", "fontWeight": "bold", "fontSize": 32, "align": "left", "baseline": "alphabetic", "color": "black"},
          "encoding": {
            "x": {"field": "x", "type": "quantitative"},
            "y": {"field": "y", "type": "quantitative"},
            "text": {"field": "t"}
          }
        }
      ]
    }
  ]
}
